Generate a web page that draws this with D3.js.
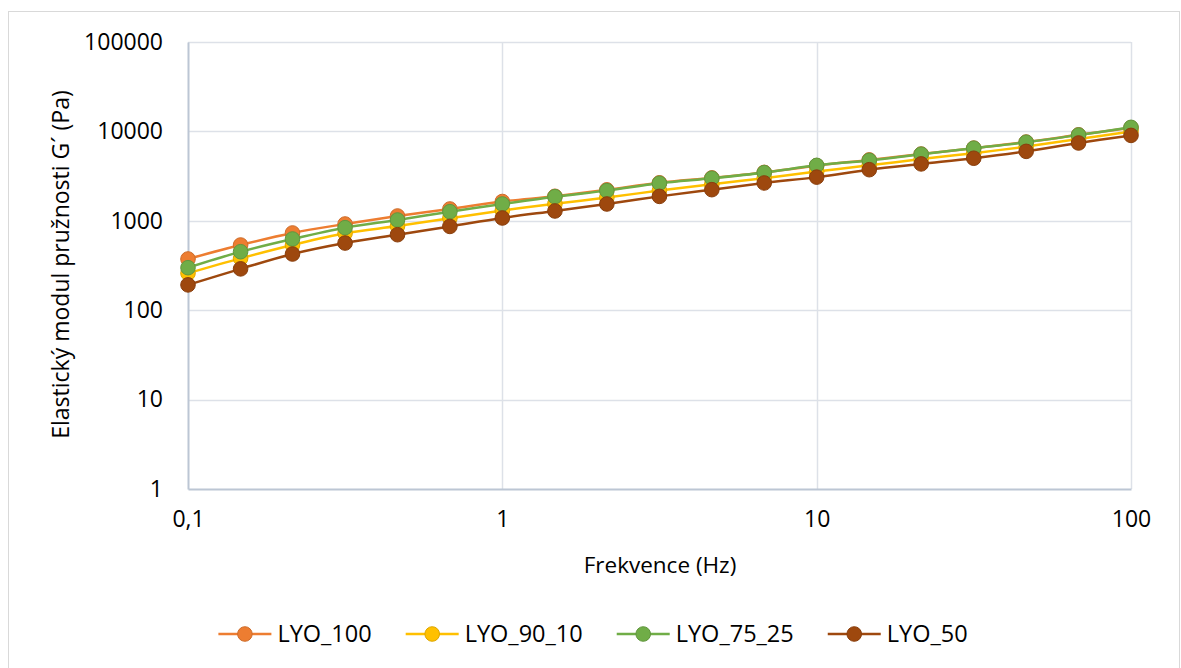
<!DOCTYPE html>
<html>
<head>
<meta charset="utf-8">
<script src="https://cdn.jsdelivr.net/npm/d3@7"></script>
<style>
  html, body { margin: 0; padding: 0; background: #ffffff; }
  svg { display: block; font-family: "Open Sans", "Liberation Sans", sans-serif; }
</style>
</head>
<body>
<svg id="chart" width="1181" height="668"></svg>
<script>
// Oscillation frequency sweep (Hz)
const frequencies = [0.1, 0.147, 0.215, 0.316, 0.464, 0.681, 1, 1.47, 2.15, 3.16, 4.64, 6.81, 10, 14.7, 21.5, 31.6, 46.4, 68.1, 100];

// Storage modulus G' (Pa) per sample
const lyo100   = [374, 536, 731, 921, 1132, 1356, 1644, 1880, 2220, 2660, 3020, 3480, 4140, 4800, 5580, 6500, 7600, 9150, 11000];
const lyo90_10 = [259, 380, 536, 725, 873, 1070, 1303, 1550, 1820, 2180, 2570, 2990, 3550, 4170, 4900, 5710, 6760, 8200, 10000];
const lyo75_25 = [299, 451, 626, 838, 1021, 1265, 1542, 1862, 2175, 2630, 2990, 3460, 4170, 4740, 5560, 6490, 7570, 9120, 11100];
const lyo50    = [192, 290, 425, 564, 699, 865, 1075, 1288, 1542, 1876, 2230, 2650, 3080, 3730, 4330, 5010, 5980, 7420, 9020];

const seriesNames  = ["LYO_100", "LYO_90_10", "LYO_75_25", "LYO_50"];
const seriesValues = [lyo100, lyo90_10, lyo75_25, lyo50];
const seriesColors = ["#ED7D31", "#FFC000", "#70AD47", "#9E480E"];

const xTicks = [0.1, 1, 10, 100];
const xTickLabels = ["0,1", "1", "10", "100"];
const yTicks = [1, 10, 100, 1000, 10000, 100000];

const xTitle = "Frekvence (Hz)";
const yTitle = "Elastický modul pružnosti G´ (Pa)";

const svg = d3.select("#chart");
const plot = { left: 188, right: 1131, top: 42, bottom: 489 };

// chart frame
svg.append("rect")
  .attr("x", 8.5).attr("y", 11.5)
  .attr("width", 1171).attr("height", 670)
  .attr("fill", "#ffffff").attr("stroke", "#d9d9d9").attr("stroke-width", 1);

const x = d3.scaleLog().domain([0.1, 100]).range([plot.left, plot.right]);
const y = d3.scaleLog().domain([1, 100000]).range([plot.bottom, plot.top]);

const gridColor = "#dde1e8";
const axisColor = "#bcc6d4";

// horizontal gridlines
svg.append("g")
  .selectAll("line")
  .data(yTicks.filter(v => v > 1))
  .join("line")
  .attr("x1", plot.left).attr("x2", plot.right)
  .attr("y1", d => Math.round(y(d)) + 0.5).attr("y2", d => Math.round(y(d)) + 0.5)
  .attr("stroke", gridColor).attr("stroke-width", 1.5);

// vertical gridlines
svg.append("g")
  .selectAll("line")
  .data(xTicks.filter(v => v > 0.1))
  .join("line")
  .attr("y1", plot.top).attr("y2", plot.bottom)
  .attr("x1", d => Math.round(x(d)) + 0.5).attr("x2", d => Math.round(x(d)) + 0.5)
  .attr("stroke", gridColor).attr("stroke-width", 1.5);

// axes
const xAxis = d3.axisBottom(x).tickValues(xTicks).tickFormat((d, i) => xTickLabels[i]).tickSize(0).tickPadding(22);
const yAxis = d3.axisLeft(y).tickValues(yTicks).tickFormat(d3.format("d")).tickSize(0).tickPadding(25);

const gx = svg.append("g").attr("transform", `translate(0,${plot.bottom})`).call(xAxis);
const gy = svg.append("g").attr("transform", `translate(${plot.left},0)`).call(yAxis);
[gx, gy].forEach(g => {
  g.select(".domain").attr("stroke", axisColor).attr("stroke-width", 2);
  g.selectAll("text").attr("font-size", 23).attr("fill", "#000000")
    .attr("font-family", "'Open Sans', sans-serif");
});
gx.selectAll("text").attr("dy", "0.68em");

// axis titles
svg.append("text")
  .attr("x", (plot.left + plot.right) / 2 + 0.5).attr("y", 573)
  .attr("text-anchor", "middle")
  .attr("font-size", 22.5).attr("fill", "#000")
  .text(xTitle);

svg.append("text")
  .attr("transform", `translate(69,${(plot.top + plot.bottom) / 2 - 1}) rotate(-90)`)
  .attr("text-anchor", "middle")
  .attr("font-size", 23).attr("fill", "#000")
  .text(yTitle);

// series: line then markers, in order
const line = d3.line()
  .x((d, i) => x(frequencies[i]))
  .y(d => y(d))
  .curve(d3.curveCatmullRom.alpha(0.5));

const plotG = svg.append("g");
seriesValues.forEach((vals, si) => {
  const g = plotG.append("g");
  g.append("path")
    .datum(vals)
    .attr("d", line)
    .attr("fill", "none")
    .attr("stroke", seriesColors[si])
    .attr("stroke-width", 2.5);
  g.selectAll("circle")
    .data(vals)
    .join("circle")
    .attr("cx", (d, i) => x(frequencies[i]))
    .attr("cy", d => y(d))
    .attr("r", 7.3)
    .attr("fill", seriesColors[si])
    .attr("stroke", d3.color(seriesColors[si]).darker(0.4))
    .attr("stroke-width", 1);
});

// legend
const legend = svg.append("g");
const legY = 634;
const lineLen = 53, textGap = 6, itemGap = 34;
let cursor = 0;
seriesNames.forEach((name, i) => {
  const g = legend.append("g");
  g.append("line")
    .attr("x1", 0).attr("x2", lineLen)
    .attr("y1", 0).attr("y2", 0)
    .attr("stroke", seriesColors[i]).attr("stroke-width", 2.5);
  g.append("circle")
    .attr("cx", lineLen / 2).attr("cy", 0).attr("r", 7.3)
    .attr("fill", seriesColors[i])
    .attr("stroke", d3.color(seriesColors[i]).darker(0.4)).attr("stroke-width", 1);
  const t = g.append("text")
    .attr("x", lineLen + textGap).attr("y", 0).attr("dy", "0.35em")
    .attr("font-size", 23.5).attr("fill", "#000")
    .text(name);
  const w = lineLen + textGap + t.node().getComputedTextLength();
  g.attr("transform", `translate(${cursor},${legY})`);
  cursor += w + itemGap;
});
const totalW = cursor - itemGap;
legend.attr("transform", `translate(${593 - totalW / 2},0)`);
</script>
</body>
</html>
